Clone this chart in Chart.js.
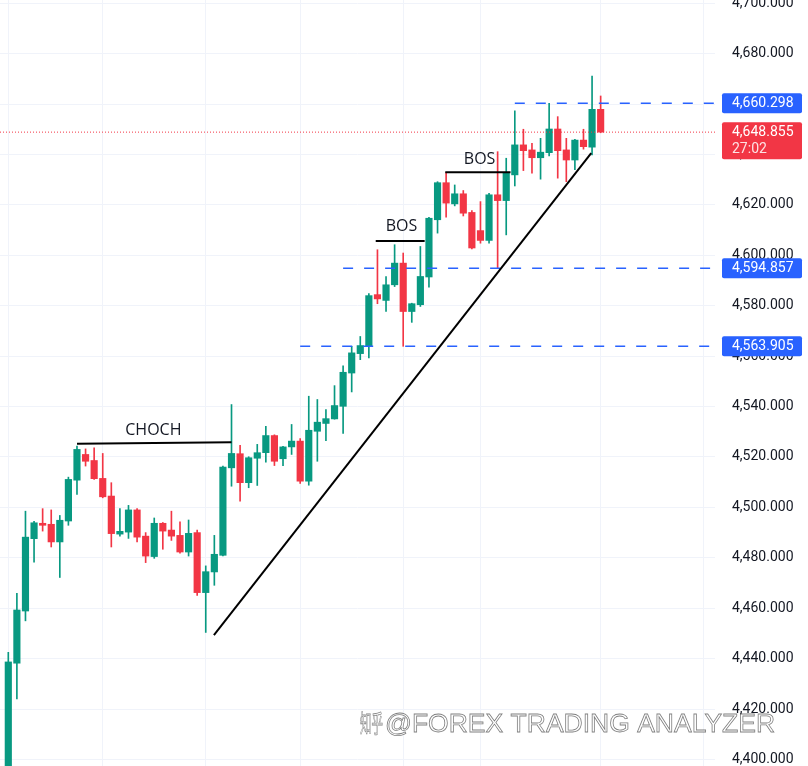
<!DOCTYPE html>
<html><head><meta charset="utf-8">
<script src="https://cdn.jsdelivr.net/npm/chart.js@4.4.1/dist/chart.umd.min.js"></script>
<style>html,body{margin:0;padding:0;background:#fff;overflow:hidden}#wrap{width:808px;height:766px;position:relative}</style>
</head><body><div id="wrap"><canvas id="c" width="808" height="766"></canvas></div>
<script>
// ---- candle data ----
const opens  = [4392,4438.2,4458.9,4487.6,4493.7,4493.3,4486.3,4494.6,4510.8,4521.0,
                4518.6,4511.5,4504.5,4489.4,4490.2,4499.0,4488.6,4480.5,4493.7,4491.0,
                4488.9,4482.3,4490.0,4466.2,4474.4,4481.0,4515.7,4521.3,4509.8,4519.5,
                4521.7,4528.5,4519.3,4524.0,4526.3,4510.4,4530.2,4533.3,4535.1,4540.1,
                4553.3,4561.0,4563.9,4584.4,4582.1,4588.3,4596.9,4577.7,4580.4,4591.4,
                4614.1,4628.8,4620.4,4624.4,4617.0,4609.8,4605.9,4624.0,4621.7,4631.9,
                4643.8,4641.8,4638.7,4640.7,4650.1,4641.8,4637.8,4645.7,4642.9,4657.9];
const highs  = [4442.5,4465.9,4498.5,4494.5,4499.5,4499.0,4496.8,4512.0,4524.3,4523.2,
                4523.6,4521.4,4509.8,4499.5,4500.8,4499.5,4490.0,4495.8,4494.0,4498.5,
                4494.3,4495.0,4491.0,4476.8,4488.9,4516.4,4540.8,4524.6,4520.1,4525.0,
                4532.2,4528.8,4524.2,4532.9,4527.3,4544.1,4542.8,4538.8,4548.3,4556.2,
                4563.9,4567.8,4584.8,4602.2,4591.6,4604.2,4600.9,4581.0,4603.5,4615.1,
                4629.2,4632.8,4627.9,4625.7,4617.7,4621.3,4624.6,4641.1,4638.5,4657.3,
                4650.0,4644.4,4646.4,4660.3,4655.0,4646.4,4646.0,4650.0,4671.1,4663.2];
const lows   = [4385,4424.0,4455.0,4478.3,4490.6,4484.3,4472.2,4492.9,4505.1,4516.4,
                4511.1,4503.8,4484.3,4488.6,4487.7,4486.3,4478.1,4479.8,4483.4,4486.9,
                4481.8,4480.7,4465.1,4450.4,4469.1,4480.8,4508.4,4502.5,4507.8,4508.7,
                4517.9,4516.6,4516.6,4521.0,4509.5,4508.8,4518.3,4526.5,4535.0,4529.3,
                4545.8,4558.6,4559.3,4580.8,4577.7,4587.6,4563.9,4573.4,4579.7,4587.4,
                4608.8,4615.1,4619.6,4615.6,4602.5,4604.8,4604.8,4594.9,4608.1,4627.5,
                4633.6,4632.6,4630.2,4639.4,4630.6,4629.2,4634.0,4642.1,4639.8,4648.6];
const closes = [4438.7,4459.3,4488.2,4493.9,4492.9,4486.3,4494.9,4511.1,4523.0,4518.3,
                4511.4,4504.2,4489.6,4490.5,4499.0,4488.2,4480.7,4493.7,4490.6,4488.6,
                4482.3,4489.7,4466.2,4474.5,4481.4,4516.0,4521.4,4509.8,4519.7,4521.7,
                4528.5,4518.3,4524.0,4526.3,4510.4,4530.6,4533.8,4535.2,4540.4,4553.6,
                4561.3,4564.2,4584.0,4582.7,4588.3,4596.9,4577.7,4580.8,4591.6,4614.7,
                4628.8,4620.7,4624.4,4616.7,4602.9,4605.9,4624.0,4621.7,4632.6,4643.8,
                4641.5,4638.7,4640.9,4650.1,4641.5,4637.8,4645.7,4643.1,4657.9,4648.855];

// ---- axes / grid ----
const gridIdx = [0, 11, 23, 34, 46, 55, 69, 81];   // vertical time grid lines (candle index)
const yStep = 20;
const X_MIN = -0.967, X_MAX = 82.32;
const Y_MIN = 4397.42, Y_MAX = 4701.27;

// ---- price levels ----
const levelValues = [4660.298, 4594.857, 4563.905];
const levelStart  = [59, 39, 34];
const lastPrice = 4648.855;
const countdown = '27:02';

// ---- drawings (index, price) ----
const chochLine = [{x: 8, y: 4525.2}, {x: 26, y: 4525.8}];
const bos1Line  = [{x: 42.8, y: 4605.7}, {x: 48.5, y: 4605.7}];
const bos2Line  = [{x: 50.9, y: 4632.9}, {x: 58.5, y: 4632.9}];
const trendLine = [{x: 23.95, y: 4449.3}, {x: 67.9, y: 4640.5}];
const labelTexts = ['CHOCH', 'BOS', 'BOS'];
const labelX = [16.9, 45.8, 54.9];
const labelY = [4530.6, 4611.4, 4638.1];
const watermarkText = '@FOREX TRADING ANALYZER';

function fmt(v) {
  const s = Number(v).toFixed(3);
  const p = s.split('.');
  return p[0].replace(/\B(?=(\d{3})+(?!\d))/g, ',') + '.' + p[1];
}

const idx = opens.map((_, i) => i);
const colors = idx.map(i => closes[i] >= opens[i] ? '#089981' : '#f23645');

const drawLine = (data) => ({
  type: 'line', data, borderColor: '#000', borderWidth: 2, pointRadius: 0, order: 0, tension: 0
});

const datasets = [
  drawLine(chochLine), drawLine(bos1Line), drawLine(bos2Line), drawLine(trendLine),
  ...levelValues.map((v, k) => ({
    type: 'line', data: [{x: levelStart[k], y: v}, {x: X_MAX, y: v}],
    borderColor: '#2962ff', borderWidth: 1.5, borderDash: [10, 11], pointRadius: 0, order: 1
  })),
  {
    type: 'line', data: [{x: X_MIN, y: lastPrice}, {x: X_MAX, y: lastPrice}],
    borderColor: '#f23645', borderWidth: 1, borderDash: [1, 2], pointRadius: 0, order: 1
  },
  {
    type: 'bar', data: idx.map(i => ({x: i, y: [lows[i], highs[i]]})),
    backgroundColor: colors, barThickness: 1, grouped: false, order: 3, borderWidth: 0
  },
  {
    type: 'bar', data: idx.map(i => ({x: i, y: [opens[i], closes[i]]})),
    backgroundColor: colors, barThickness: 6.5, grouped: false, order: 2, borderWidth: 0, minBarLength: 1
  }
];

const overlay = {
  id: 'overlay',
  afterDatasetsDraw(chart) {
    const ctx = chart.ctx, xs = chart.scales.x, ys = chart.scales.y;
    ctx.save();
    ctx.fillStyle = '#131722';
    ctx.font = '16px "Open Sans"';
    ctx.textAlign = 'center';
    ctx.textBaseline = 'middle';
    labelTexts.forEach((t, k) => {
      ctx.fillText(t, xs.getPixelForValue(labelX[k]), ys.getPixelForValue(labelY[k]));
    });
    ctx.restore();
  },
  afterDraw(chart) {
    const ctx = chart.ctx, ys = chart.scales.y;
    const bx = ys.left + 7, bw = 80, tx = ys.left + 17;
    ctx.save();
    ctx.font = '14px Roboto';
    ctx.textAlign = 'left';
    ctx.textBaseline = 'middle';
    levelValues.forEach(v => {
      const py = ys.getPixelForValue(v);
      ctx.fillStyle = '#2962ff';
      ctx.beginPath(); ctx.roundRect(bx, py - 10, bw, 20, 2); ctx.fill();
      ctx.fillStyle = '#ffffff';
      ctx.fillText(fmt(v), tx, py + 0.5);
    });
    const lp = ys.getPixelForValue(lastPrice);
    ctx.fillStyle = '#f23645';
    ctx.beginPath(); ctx.roundRect(bx, lp - 10, bw, 37, 2); ctx.fill();
    ctx.fillStyle = '#ffffff';
    ctx.fillText(fmt(lastPrice), tx, lp + 0.5);
    ctx.fillStyle = 'rgba(255,255,255,0.85)';
    ctx.fillText(countdown, tx, lp + 17.5);

    // watermark (outlined text)
    ctx.textBaseline = 'alphabetic';
    ctx.lineWidth = 0.8;
    ctx.strokeStyle = 'rgba(40,40,40,0.6)';
    ctx.fillStyle = 'rgba(255,255,255,0.95)';
    ctx.font = '24px "Noto Sans CJK SC"';
    ctx.fillText('知乎', 360, 731.5, 23);
    ctx.strokeText('知乎', 360, 731.5, 23);
    ctx.font = '26.5px "Liberation Sans"';
    ctx.fillText(watermarkText, 385, 731.5, 397);
    ctx.strokeText(watermarkText, 385, 731.5, 397);
    ctx.restore();
  }
};

new Chart(document.getElementById('c'), {
  type: 'bar',
  data: { datasets },
  options: {
    responsive: false,
    animation: false,
    events: [],
    layout: { padding: 0 },
    plugins: { legend: { display: false }, tooltip: { enabled: false } },
    scales: {
      x: {
        type: 'linear', min: X_MIN, max: X_MAX, offset: false,
        grid: { color: '#f0f3fa', offset: false, drawTicks: false },
        border: { display: false },
        ticks: { display: false },
        afterBuildTicks: s => { s.ticks = gridIdx.map(v => ({ value: v })); },
        afterFit: s => { s.height = 0; s.paddingLeft = 0; s.paddingRight = 0; }
      },
      y: {
        position: 'right', min: Y_MIN, max: Y_MAX,
        grid: { color: '#f0f3fa', drawTicks: false },
        border: { display: false },
        ticks: {
          stepSize: yStep, includeBounds: false, padding: 17, color: '#131722',
          font: { family: 'Roboto', size: 14 },
          callback: v => fmt(v)
        },
        afterFit: s => { s.width = 93; s.paddingTop = 0; s.paddingBottom = 0; }
      }
    }
  },
  plugins: [overlay]
});
</script>
</body></html>
